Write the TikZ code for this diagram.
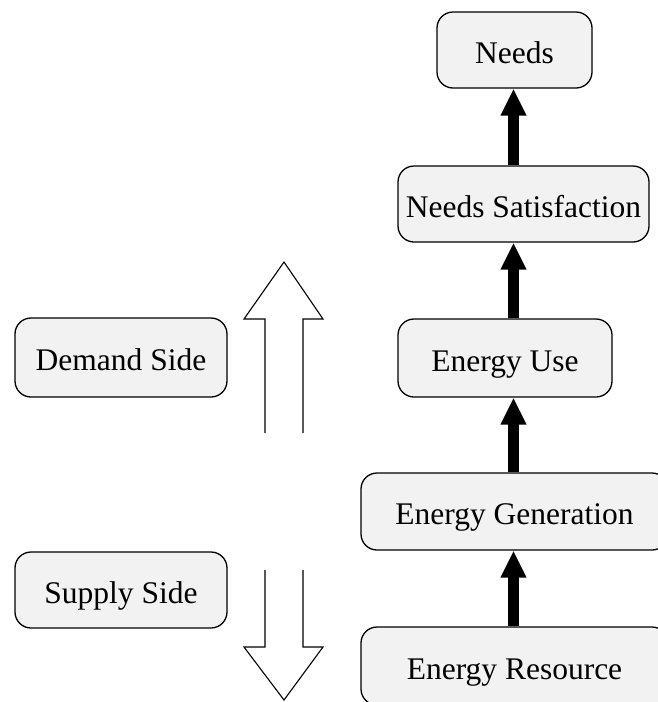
\documentclass[tikz,border=0pt]{standalone}
\usepackage{fontspec}
\setmainfont{Liberation Serif}
\usetikzlibrary{arrows.meta}
\definecolor{boxfill}{HTML}{F2F2F2}
\tikzset{
  stepbox/.style={draw=black, line width=1.3pt, fill=boxfill, rounded corners=16pt,
    inner sep=0pt, text height=26pt, text depth=0pt,
    font=\fontsize{31.5}{36}\selectfont},
  bigarrow/.style={line width=11pt, -{Triangle[length=27pt,width=24pt]}},
  hollow/.style={draw=black, line width=1.1pt, line join=miter}
}
\begin{document}
\begin{tikzpicture}[x=1pt,y=-1pt]
\clip (0,0) rectangle (658,702);
\fill[white] (0,0) rectangle (658,702);
% right column
\node[stepbox, minimum width=155pt, minimum height=76pt] (needs) at (514.5,50) {Needs};
\node[stepbox, minimum width=251pt, minimum height=76pt] (ns) at (523.5,204) {Needs Satisfaction};
\node[stepbox, minimum width=214pt, minimum height=78pt] (eu) at (505,358) {Energy Use};
\node[stepbox, minimum width=307pt, minimum height=77pt] (eg) at (514.5,511.5) {Energy Generation};
\node[stepbox, minimum width=307pt, minimum height=78pt] (er) at (514.5,666) {Energy Resource};
% left column
\node[stepbox, minimum width=212pt, minimum height=79pt] (ds) at (121,357.5) {Demand Side};
\node[stepbox, minimum width=212pt, minimum height=76pt] (ss) at (121,590) {Supply Side};
% connectors
\coordinate (ax) at (513.5,0);
\draw[bigarrow] (er.north -| ax) -- (eg.south -| ax);
\draw[bigarrow] (eg.north -| ax) -- (eu.south -| ax);
\draw[bigarrow] (eu.north -| ax) -- (ns.south -| ax);
\draw[bigarrow] (ns.north -| ax) -- (needs.south -| ax);
% hollow arrows
\draw[hollow] (265,433) -- (265,319) -- (244,319) -- (284,262) -- (323,319) -- (303,319) -- (303,433);
\draw[hollow] (265,570) -- (265,647) -- (244,647) -- (284,700) -- (323,647) -- (303,647) -- (303,570);
\end{tikzpicture}
\end{document}
